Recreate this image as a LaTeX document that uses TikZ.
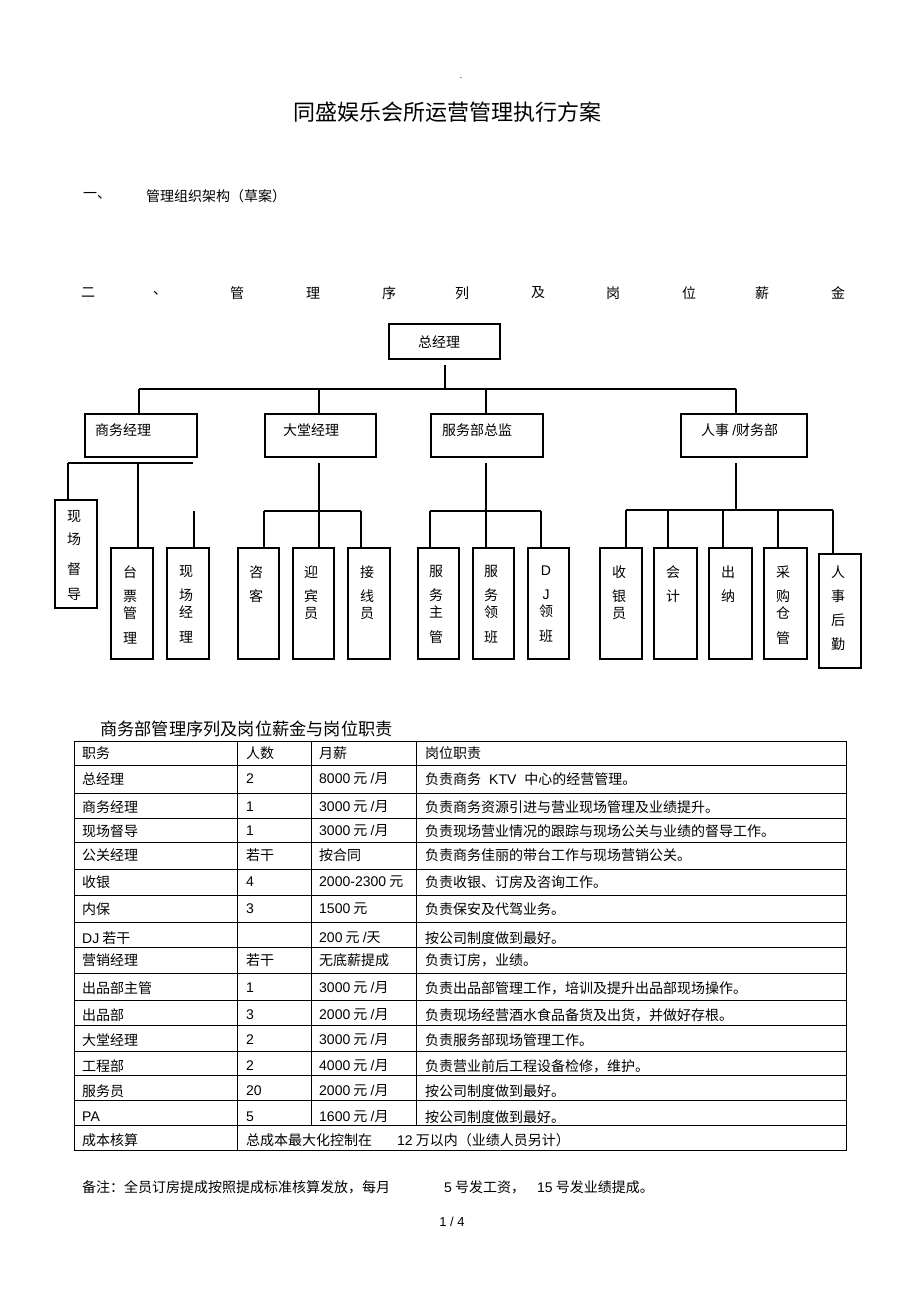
\documentclass[tikz,border=0pt]{standalone}
\usepackage{fontspec}
\setmainfont{Noto Sans CJK SC}
\newfontfamily\lat{Liberation Sans}
\newcommand\en[1]{{\lat #1}}
\newcommand\obx[5]{\node[obox, minimum width=#4pt, minimum height=#5pt] (#1) at (#2,#3) {};}
\newcommand\trow[6]{%
  \node[cell] (#1a) at (82,#2) {#3};
  \node[cell] (#1b) at (246,#2) {#4};
  \node[cell] (#1c) at (319,#2) {#5};
  \node[cell] (#1d) at (425,#2) {#6};}
\begin{document}
\begin{tikzpicture}[x=1pt,y=-1pt,
  ln/.style={line width=1.5pt},
  obox/.style={draw, line width=1.5pt, inner sep=0pt, anchor=north west},
  txt/.style={inner sep=0pt, font=\fontsize{14}{17}\selectfont},
  vt/.style={inner sep=0pt, anchor=north, align=center, font=\fontsize{14}{24}\selectfont},
  cell/.style={inner sep=0pt, anchor=west, font=\fontsize{14}{17}\selectfont},
  grid/.style={line width=1pt}]
\fill[white] (0,0) rectangle (920,1303);
\useasboundingbox (0,0) rectangle (920,1303);

% header
\node[inner sep=0pt, font=\fontsize{8}{8}\selectfont] (dot) at (461,78) {.};
\node[inner sep=0pt, font=\fontsize{22}{26}\selectfont] (title) at (447,112) {同盛娱乐会所运营管理执行方案};
\node[txt, anchor=west] (s1n) at (83,196) {一、};
\node[txt, anchor=west] (s1) at (146,196) {管理组织架构（草案）};
\node[txt] (s2a) at (88,293) {二};
\node[txt] (s2b) at (160,293) {、};
\node[txt] (s2c) at (237,293) {管};
\node[txt] (s2d) at (313,293) {理};
\node[txt] (s2e) at (389,293) {序};
\node[txt] (s2f) at (462,293) {列};
\node[txt] (s2g) at (538,293) {及};
\node[txt] (s2h) at (613,293) {岗};
\node[txt] (s2i) at (689,293) {位};
\node[txt] (s2j) at (762,293) {薪};
\node[txt] (s2k) at (838,293) {金};

% org chart boxes
\obx{gm}{388}{323}{111}{35}
\node[txt, anchor=west] (gmt) at (418,342) {总经理};
\obx{sw}{84}{413}{112}{43}
\obx{dt}{264}{413}{111}{43}
\obx{fw}{430}{413}{112}{43}
\obx{rs}{680}{413}{126}{43}
\node[txt, anchor=west] (swt) at (95,430) {商务经理};
\node[txt, anchor=west] (dtt) at (283,430) {大堂经理};
\node[txt, anchor=west] (fwt) at (442,430) {服务部总监};
\node[txt, anchor=west] (rst) at (701,430) {人事 \en{/}财务部};

\obx{xcdd}{54}{499}{42}{108}
\obx{tpgl}{110}{547}{42}{111}
\obx{xcjl}{166}{547}{42}{111}
\obx{zk}{237}{547}{41}{111}
\obx{ybj}{292}{547}{41}{111}
\obx{jxy}{347}{547}{42}{111}
\obx{fwzg}{417}{547}{41}{111}
\obx{fwlb}{472}{547}{41}{111}
\obx{djlb}{527}{547}{41}{111}
\obx{syy}{599}{547}{42}{111}
\obx{kj}{653}{547}{43}{111}
\obx{cnn}{708}{547}{43}{111}
\obx{cggg}{763}{547}{43}{111}
\obx{rshq}{818}{553}{42}{114}

\node[vt] (xcddt) at (74,510.5) {现\\[-1pt]场\\[6pt]督\\[1pt]导};
\node[vt] (tpglt) at (130,565.5) {台\\票\\[-7pt]管\\[1pt]理};
\node[vt] (xcjlt) at (186,565.5) {现\\场\\[-7pt]经\\[1pt]理};
\node[vt] (zkt) at (256,565.5) {咨\\客};
\node[vt] (ybjt) at (311,565.5) {迎\\宾\\[-7pt]员};
\node[vt] (jxyt) at (367,565.5) {接\\线\\[-7pt]员};
\node[vt] (fwzgt) at (436,565.5) {服\\务\\[-7pt]主\\[1pt]管};
\node[vt] (fwlbt) at (491,565.5) {服\\务\\[-7pt]领\\[1pt]班};
\node[vt] (djlbt) at (546,565.5) {\en{D}\\\en{J}\\[-7pt]领\\[1pt]班};
\node[vt] (syyt) at (619,565.5) {收\\银\\[-7pt]员};
\node[vt] (kjt) at (673,565.5) {会\\计};
\node[vt] (cnnt) at (728,565.5) {出\\纳};
\node[vt] (cgggt) at (783,565.5) {采\\购\\[-7pt]仓\\[1pt]管};
\node[vt] (rshqt) at (838,565.5) {人\\事\\后\\勤};

% connectors level 1
\coordinate (gmd) at (445,365);
\coordinate (busL) at (139,389);
\coordinate (busR) at (736,389);
\coordinate (b2) at (319,389);
\coordinate (b3) at (486,389);
\draw[ln] (gmd) -- (gmd |- busL);
\draw[ln] (busL) -- (busR);
\draw[ln] (busL) -- (busL |- sw.north);
\draw[ln] (b2) -- (b2 |- dt.north);
\draw[ln] (b3) -- (b3 |- fw.north);
\draw[ln] (busR) -- (busR |- rs.north);

% 商务经理 group
\coordinate (swL) at (68,463);
\coordinate (swR) at (193,463);
\coordinate (swM) at (138,463);
\coordinate (swS) at (194,511);
\draw[ln] (swL) -- (swR);
\draw[ln] (swL) -- (swL |- xcdd.north);
\draw[ln] (swM) -- (swM |- tpgl.north);
\draw[ln] (swS) -- (swS |- xcjl.north);

% 大堂经理 group
\coordinate (dtM) at (319,463);
\coordinate (dtL) at (264,511);
\coordinate (dtR) at (361,511);
\draw[ln] (dtM) -- (dtM |- ybj.north);
\draw[ln] (dtL) -- (dtR);
\draw[ln] (dtL) -- (dtL |- zk.north);
\draw[ln] (dtR) -- (dtR |- jxy.north);

% 服务部总监 group
\coordinate (fwM) at (486,463);
\coordinate (fwL) at (430,511);
\coordinate (fwR) at (541,511);
\draw[ln] (fwM) -- (fwM |- fwlb.north);
\draw[ln] (fwL) -- (fwR);
\draw[ln] (fwL) -- (fwL |- fwzg.north);
\draw[ln] (fwR) -- (fwR |- djlb.north);

% 人事/财务部 group
\coordinate (rsM) at (736,463);
\coordinate (rsB) at (736,510);
\coordinate (r1) at (626,510);
\coordinate (r2) at (668,510);
\coordinate (r3) at (723,510);
\coordinate (r4) at (778,510);
\coordinate (r5) at (833,510);
\draw[ln] (rsM) -- (rsB);
\draw[ln] (r1) -- (r5);
\draw[ln] (r1) -- (r1 |- syy.north);
\draw[ln] (r2) -- (r2 |- kj.north);
\draw[ln] (r3) -- (r3 |- cnn.north);
\draw[ln] (r4) -- (r4 |- cggg.north);
\draw[ln] (r5) -- (r5 |- rshq.north);

% table
\node[inner sep=0pt, anchor=west, font=\fontsize{17.2}{20}\selectfont] (ttitle) at (100,729) {商务部管理序列及岗位薪金与岗位职责};
\draw[grid] (74,741) rectangle (846,1150);
\foreach \yy in {765,793,818,842,869,895,922,947,973,1000,1025,1051,1075,1100,1125}
  \draw[grid] (74,\yy) -- (846,\yy);
\draw[grid] (237,741) -- (237,1150);
\draw[grid] (311,741) -- (311,1125);
\draw[grid] (416,741) -- (416,1125);

\trow{h}{753}{职务}{人数}{月薪}{岗位职责}
\trow{ra}{779}{总经理}{\en{2}}{\en{8000} 元 \en{/}月}{负责商务\hspace{8pt}\en{KTV}\hspace{8pt}中心的经营管理。}
\trow{rb}{807}{商务经理}{\en{1}}{\en{3000} 元 \en{/}月}{负责商务资源引进与营业现场管理及业绩提升。}
\trow{rc}{831}{现场督导}{\en{1}}{\en{3000} 元 \en{/}月}{负责现场营业情况的跟踪与现场公关与业绩的督导工作。}
\trow{rd}{855}{公关经理}{若干}{按合同}{负责商务佳丽的带台工作与现场营销公关。}
\trow{re}{882}{收银}{\en{4}}{\en{2000-2300} 元}{负责收银、订房及咨询工作。}
\trow{rf}{909}{内保}{\en{3}}{\en{1500} 元}{负责保安及代驾业务。}
\trow{rg}{938}{\en{DJ} 若干}{}{\en{200} 元 \en{/}天}{按公司制度做到最好。}
\trow{rh}{960}{营销经理}{若干}{无底薪提成}{负责订房，业绩。}
\trow{ri}{988}{出品部主管}{\en{1}}{\en{3000} 元 \en{/}月}{负责出品部管理工作，培训及提升出品部现场操作。}
\trow{rj}{1015}{出品部}{\en{3}}{\en{2000} 元 \en{/}月}{负责现场经营酒水食品备货及出货，并做好存根。}
\trow{rk}{1040}{大堂经理}{\en{2}}{\en{3000} 元 \en{/}月}{负责服务部现场管理工作。}
\trow{rl}{1066}{工程部}{\en{2}}{\en{4000} 元 \en{/}月}{负责营业前后工程设备检修，维护。}
\trow{rm}{1091}{服务员}{\en{20}}{\en{2000} 元 \en{/}月}{按公司制度做到最好。}
\trow{rn}{1117}{\en{PA}}{\en{5}}{\en{1600} 元 \en{/}月}{按公司制度做到最好。}
\node[cell] (roa) at (82,1140) {成本核算};
\node[cell] (rob) at (246,1140) {总成本最大化控制在};
\node[cell] (roc) at (397,1140) {\en{12} 万以内（业绩人员另计）};

% note
\node[cell] (note1) at (82,1187) {备注：全员订房提成按照提成标准核算发放，每月};
\node[cell] (note2) at (444,1187) {\en{5} 号发工资，};
\node[cell] (note3) at (537,1187) {\en{15} 号发业绩提成。};
\node[inner sep=0pt, font=\lat\fontsize{13}{15}\selectfont] (page) at (452,1222) {1 / 4};
\end{tikzpicture}
\end{document}
